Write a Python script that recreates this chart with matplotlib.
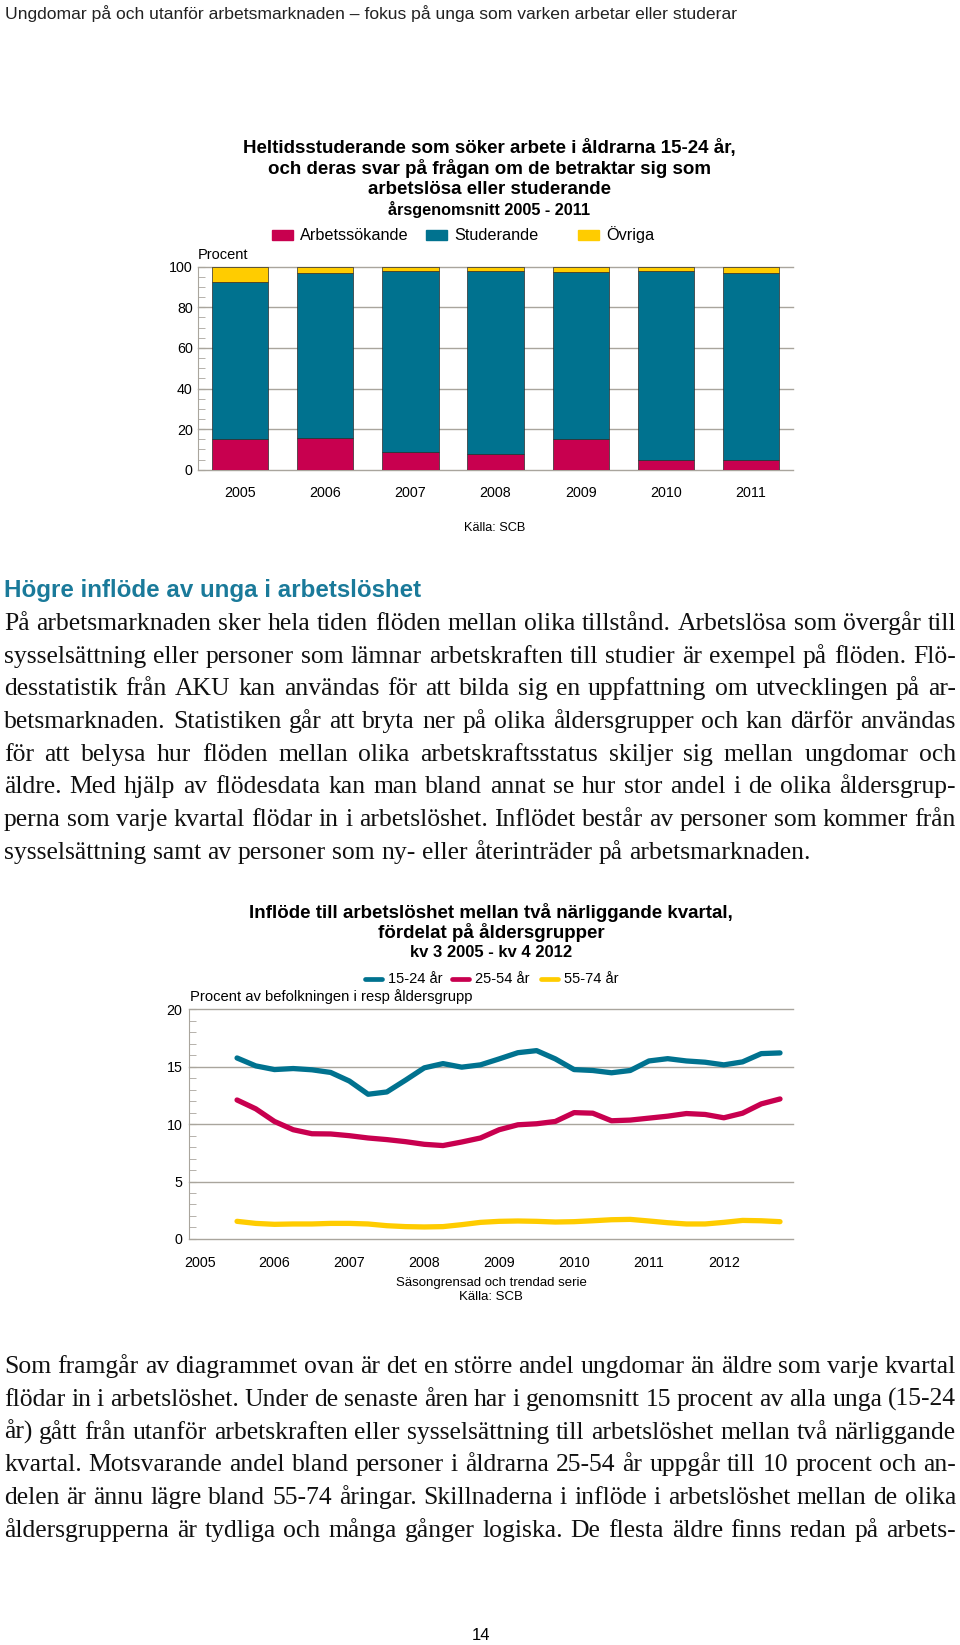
import matplotlib
matplotlib.use("Agg")
import matplotlib.pyplot as plt
from matplotlib.patches import Rectangle
from matplotlib.lines import Line2D
from matplotlib.ticker import MultipleLocator
import numpy as np

W, H = 960, 1645
SANS = "Liberation Sans"
SERIF = "Liberation Serif"

RED = "#C8004F"
BLUE = "#00728F"
YELLOW = "#FFCC00"
GRID = "#A9A59D"
HEAD = "#1A7A9A"

plt.rcParams["font.family"] = [SANS, "DejaVu Sans"]

# --- bar chart: heltidsstuderande 15-24 som söker arbete (procent)
years = ["2005", "2006", "2007", "2008", "2009", "2010", "2011"]
arbetssokande = [15.3, 15.8, 8.6, 7.5, 15.3, 5.0, 4.7]
studerande = [77.4, 81.3, 89.3, 90.5, 82.3, 92.9, 92.4]
ovriga = [7.3, 2.9, 2.1, 2.0, 2.4, 2.1, 2.9]

# --- line chart: inflöde till arbetslöshet, kv 3 2005 - kv 4 2012
tick_years = ["2005", "2006", "2007", "2008", "2009", "2010", "2011", "2012"]
first_quarter = 2  # kv 3 2005, counted from kv 1 2005
unga_15_24 = [15.76, 15.07, 14.75, 14.84, 14.73, 14.5, 13.75, 12.6, 12.8, 13.83,
              14.9, 15.27, 14.96, 15.16, 15.68, 16.22, 16.4, 15.68, 14.75, 14.67,
              14.47, 14.67, 15.5, 15.7, 15.5, 15.39, 15.16, 15.42, 16.14, 16.2]
vuxna_25_54 = [12.1, 11.33, 10.23, 9.51, 9.16, 9.14, 8.99, 8.79, 8.65, 8.47,
               8.24, 8.13, 8.44, 8.79, 9.51, 9.94, 10.03, 10.23, 11.0, 10.95,
               10.29, 10.35, 10.52, 10.69, 10.92, 10.84, 10.55, 10.95, 11.76, 12.19]
aldre_55_74 = [1.53, 1.35, 1.27, 1.3, 1.3, 1.35, 1.35, 1.3, 1.15, 1.07,
               1.04, 1.07, 1.24, 1.44, 1.53, 1.56, 1.53, 1.47, 1.5, 1.58,
               1.67, 1.7, 1.56, 1.41, 1.3, 1.3, 1.44, 1.61, 1.58, 1.5]

para1 = [
    "På arbetsmarknaden sker hela tiden flöden mellan olika tillstånd. Arbetslösa som övergår till",
    "sysselsättning eller personer som lämnar arbetskraften till studier är exempel på flöden. Flö-",
    "desstatistik från AKU kan användas för att bilda sig en uppfattning om utvecklingen på ar-",
    "betsmarknaden. Statistiken går att bryta ner på olika åldersgrupper och kan därför användas",
    "för att belysa hur flöden mellan olika arbetskraftsstatus skiljer sig mellan ungdomar och",
    "äldre. Med hjälp av flödesdata kan man bland annat se hur stor andel i de olika åldersgrup-",
    "perna som varje kvartal flödar in i arbetslöshet. Inflödet består av personer som kommer från",
    "sysselsättning samt av personer som ny- eller återinträder på arbetsmarknaden.",
]
para2 = [
    "Som framgår av diagrammet ovan är det en större andel ungdomar än äldre som varje kvartal",
    "flödar in i arbetslöshet. Under de senaste åren har i genomsnitt 15 procent av alla unga (15-24",
    "år) gått från utanför arbetskraften eller sysselsättning till arbetslöshet mellan två närliggande",
    "kvartal. Motsvarande andel bland personer i åldrarna 25-54 år uppgår till 10 procent och an-",
    "delen är ännu lägre bland 55-74 åringar. Skillnaderna i inflöde i arbetslöshet mellan de olika",
    "åldersgrupperna är tydliga och många gånger logiska. De flesta äldre finns redan på arbets-",
]

fig = plt.figure(figsize=(W / 100, H / 100), dpi=100)
renderer = fig.canvas.get_renderer()


def fx(x):
    return x / W


def fy(y):
    return 1 - y / H


def put(x, y, s, **kw):
    return fig.text(fx(x), fy(y), s, **kw)


def axes_px(left, top, right, bottom):
    return fig.add_axes([fx(left), fy(bottom), (right - left) / W, (bottom - top) / H])


def width_of(s, **kw):
    t = put(0, 0, s, **kw)
    w = t.get_window_extent(renderer).width
    t.remove()
    return w


def paragraph(lines, baseline, step, size, last_free=True, left=4, right=956):
    space = width_of("a a", family=SERIF, fontsize=size) - width_of("aa", family=SERIF, fontsize=size)
    for i, line in enumerate(lines):
        y = baseline + i * step
        words = line.split(" ")
        texts = [put(0, y, w, family=SERIF, fontsize=size, va="baseline", color="#111111")
                 for w in words]
        widths = [t.get_window_extent(renderer).width for t in texts]
        if i == len(lines) - 1 and last_free:
            gap = space
        else:
            gap = (right - left - sum(widths)) / (len(words) - 1)
        x = left
        for t, w in zip(texts, widths):
            t.set_x(fx(x))
            x += w + gap


# page header
put(5, 14, "Ungdomar på och utanför arbetsmarknaden – fokus på unga som varken arbetar eller studerar",
    fontsize=12.6, va="center", color="#222222")

# ---------------- bar chart
for y, s, fs in [(148, "Heltidsstuderande som söker arbete i åldrarna 15-24 år,", 13.5),
                 (169, "och deras svar på frågan om de betraktar sig som", 13.5),
                 (190, "arbetslösa eller studerande", 13.5),
                 (209, "årsgenomsnitt 2005 - 2011", 11.7)]:
    put(489, y, s, ha="center", va="center", fontsize=fs, weight="bold")

for x0, label, c in [(272, "Arbetssökande", RED), (426, "Studerande", BLUE), (578, "Övriga", YELLOW)]:
    fig.patches.append(Rectangle((fx(x0), fy(240)), 21 / W, 10 / H, color=c,
                                 transform=fig.transFigure, figure=fig))
    put(x0 + 28, 235, label, va="center", fontsize=11.7)

put(198, 255, "Procent", va="center", fontsize=10.5)

ax1 = axes_px(198.3, 266.7, 793.3, 469.7)
x = np.arange(len(years))
bw = 0.66
edge = dict(edgecolor="#2b2b2b", linewidth=0.5, zorder=3)
ax1.bar(x, arbetssokande, bw, color=RED, **edge)
ax1.bar(x, studerande, bw, bottom=arbetssokande, color=BLUE, **edge)
ax1.bar(x, ovriga, bw, bottom=np.add(arbetssokande, studerande), color=YELLOW, **edge)
ax1.set_xlim(-0.494, 6.5)
ax1.set_ylim(0, 100)
ax1.set_xticks(x, years)
ax1.set_yticks(range(0, 101, 20))
ax1.yaxis.set_minor_locator(MultipleLocator(5))
ax1.grid(axis="y", color=GRID, lw=1)
ax1.set_axisbelow(True)
for gl in ax1.get_ygridlines():
    gl.set_clip_on(False)
for s in ["top", "right", "bottom"]:
    ax1.spines[s].set_visible(False)
ax1.spines["left"].set_color(GRID)
ax1.tick_params(axis="y", which="both", direction="in", color=GRID, length=5, labelsize=10.3, pad=4)
ax1.tick_params(axis="x", length=0, labelsize=10.3, pad=12)

put(495, 528, "Källa: SCB", ha="center", va="center", fontsize=9.2)

# ---------------- text section
put(4, 590, "Högre inflöde av unga i arbetslöshet", va="center", fontsize=17.4,
    weight="bold", color=HEAD)

body_size = 16 * 806 / width_of(para1[-1], family=SERIF, fontsize=16)
paragraph(para1, 630, 32.7, body_size)

# ---------------- line chart
for y, s, fs in [(912, "Inflöde till arbetslöshet mellan två närliggande kvartal,", 13.5),
                 (933, "fördelat på åldersgrupper", 13.5),
                 (953, "kv 3 2005 - kv 4 2012", 12)]:
    put(491, y, s, ha="center", va="center", fontsize=fs, weight="bold")

for x0, tx, label, c in [(362, 388, "15-24 år", BLUE), (449, 475, "25-54 år", RED),
                         (538, 564, "55-74 år", YELLOW)]:
    fig.lines.append(Line2D([fx(x0 + 2.5), fx(x0 + 19.5)], [fy(979), fy(979)], color=c, lw=3.4,
                            solid_capstyle="round", transform=fig.transFigure, figure=fig))
    put(tx, 979, label, va="center", fontsize=10.5)

put(190, 997, "Procent av befolkningen i resp åldersgrupp", va="center", fontsize=10.6)

ax2 = axes_px(189.3, 1009.3, 793.3, 1238.9)
q = np.arange(len(unga_15_24)) + first_quarter
for vals, c in [(aldre_55_74, YELLOW), (vuxna_25_54, RED), (unga_15_24, BLUE)]:
    ax2.plot(q, vals, color=c, lw=3.8, solid_capstyle="round", solid_joinstyle="round", zorder=3)
ax2.set_xlim(-0.55, 31.71)
ax2.set_ylim(0, 20)
ax2.set_xticks(np.arange(len(tick_years)) * 4, tick_years)
ax2.set_yticks(range(0, 21, 5))
ax2.yaxis.set_minor_locator(MultipleLocator(1))
ax2.grid(axis="y", color=GRID, lw=1)
ax2.set_axisbelow(True)
for gl in ax2.get_ygridlines():
    gl.set_clip_on(False)
for s in ["top", "right", "bottom"]:
    ax2.spines[s].set_visible(False)
ax2.spines["left"].set_color(GRID)
ax2.tick_params(axis="y", which="both", direction="in", color=GRID, length=5, labelsize=10.3, pad=5)
ax2.tick_params(axis="x", length=0, labelsize=10.3, pad=12)

put(491, 1283, "Säsongrensad och trendad serie", ha="center", va="center", fontsize=9.5)
put(491, 1297, "Källa: SCB", ha="center", va="center", fontsize=9.5)

paragraph(para2, 1373, 32.8, body_size, last_free=False)

put(481, 1636, "14", ha="center", va="center", fontsize=12)

fig.savefig("out.png", dpi=100)
